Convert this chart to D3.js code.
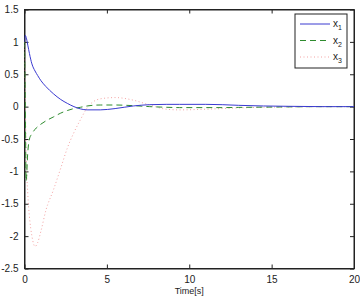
<!DOCTYPE html>
<html>
<head>
<meta charset="utf-8">
<script src="https://cdn.jsdelivr.net/npm/d3@7"></script>
<style>
  body { margin: 0; background: #fff; }
  text { font-family: "Liberation Sans", Arial, sans-serif; }
</style>
</head>
<body>
<div id="chart"></div>
<script>
var margin = { top: 9.5, right: 6, bottom: 29.5, left: 24.5 },
    width = 360 - margin.left - margin.right,
    height = 298 - margin.top - margin.bottom;

// time samples and the three states
var time = [0, 0.05, 0.1, 0.2, 0.3, 0.45, 0.64, 0.8, 1.0, 1.3, 1.75, 2.2, 2.6, 3.0, 3.4, 3.8, 4.6, 5.5, 6.6, 7.6, 8.6, 9.4, 11, 12, 13, 14.5, 16, 18, 20];
var x1 = [1.0, 1.1, 1.07, 0.95, 0.82, 0.66, 0.55, 0.48, 0.4, 0.31, 0.2, 0.11, 0.05, 0.0, -0.035, -0.05, -0.05, -0.03, 0.01, 0.03, 0.035, 0.035, 0.035, 0.03, 0.02, 0.01, 0.005, 0, 0];
var x2 = [1.0, 0.0, -1.15, -0.7, -0.5, -0.42, -0.35, -0.31, -0.27, -0.22, -0.16, -0.1, -0.06, -0.03, -0.01, 0.01, 0.025, 0.025, 0.015, 0.0, -0.01, -0.015, -0.015, -0.015, -0.012, -0.008, -0.004, 0, 0];
var x3 = [1.0, 0.1, -0.7, -1.35, -1.7, -2.0, -2.16, -2.1, -1.92, -1.6, -1.29, -0.95, -0.64, -0.4, -0.2, -0.02, 0.12, 0.14, 0.1, 0.025, -0.04, -0.05, -0.04, -0.03, -0.02, -0.01, -0.005, 0, 0];

var xTicks = [0, 5, 10, 15, 20];
var yTicks = [-2.5, -2, -1.5, -1, -0.5, 0, 0.5, 1, 1.5];

var series = [
    { name: "1", values: x1, color: "#3a3ad0", dash: null, width: 1 },
    { name: "2", values: x2, color: "#2e8b2e", dash: "6,4", width: 1 },
    { name: "3", values: x3, color: "#f08c8c", dash: "1,2.5", width: 0.8 }
];

var svg = d3.select("#chart")
    .append("svg")
    .attr("width", width + margin.left + margin.right)
    .attr("height", height + margin.top + margin.bottom)
    .append("g")
    .attr("transform", "translate(" + margin.left + "," + margin.top + ")");

var x = d3.scaleLinear().domain([0, 20]).range([0, width]);
var y = d3.scaleLinear().domain([-2.5, 1.5]).range([height, 0]);

// axes with inward ticks on all four sides
svg.append("g")
    .attr("transform", `translate(0,${height})`)
    .call(d3.axisBottom(x).tickValues(xTicks).tickSizeInner(-4).tickSizeOuter(0).tickPadding(7).tickFormat(d3.format("d")));
svg.append("g")
    .call(d3.axisTop(x).tickValues(xTicks).tickSizeInner(-4).tickSizeOuter(0).tickFormat(""));
svg.append("g")
    .call(d3.axisLeft(y).tickValues(yTicks).tickSizeInner(-4).tickSizeOuter(0).tickPadding(6).tickFormat(d => String(d)));
svg.append("g")
    .attr("transform", `translate(${width},0)`)
    .call(d3.axisRight(y).tickValues(yTicks).tickSizeInner(-4).tickSizeOuter(0).tickFormat(""));

svg.selectAll(".domain").attr("stroke", "#222");
svg.selectAll(".tick line").attr("stroke", "#222");
svg.selectAll(".tick text").style("font-size", "10px").attr("fill", "#222");

svg.append("rect")
    .attr("width", width).attr("height", height)
    .attr("fill", "none").attr("stroke", "#222");

svg.append("clipPath").attr("id", "clip")
    .append("rect").attr("width", width).attr("height", height);

var line = d3.line()
    .x((d, i) => x(time[i]))
    .y(d => y(d))
    .curve(d3.curveMonotoneX);

svg.append("g").attr("clip-path", "url(#clip)")
    .selectAll("path")
    .data(series.slice().reverse())
    .enter().append("path")
    .attr("d", d => line(d.values))
    .attr("fill", "none")
    .attr("stroke", d => d.color)
    .attr("stroke-width", d => d.width)
    .attr("stroke-dasharray", d => d.dash);

svg.append("text")
    .attr("x", width / 2)
    .attr("y", height + 25)
    .attr("text-anchor", "middle")
    .style("font-size", "9px")
    .attr("fill", "#222")
    .text("Time[s]");

// legend
var legend = svg.append("g").attr("transform", "translate(270.5,4.5)");
legend.append("rect")
    .attr("width", 52).attr("height", 54)
    .attr("fill", "#fff").attr("stroke", "#222");

var item = legend.selectAll(".item")
    .data(series)
    .enter().append("g")
    .attr("transform", (d, i) => "translate(0," + (10 + i * 16.5) + ")");
item.append("line")
    .attr("x1", 5).attr("x2", 35)
    .attr("stroke", d => d.color)
    .attr("stroke-width", d => d.width)
    .attr("stroke-dasharray", d => d.dash);
item.append("text")
    .attr("x", 38).attr("y", 3)
    .style("font-size", "10px")
    .attr("fill", "#222")
    .text("x")
    .append("tspan")
    .attr("dy", 3)
    .style("font-size", "7px")
    .text(d => d.name);
</script>
</body>
</html>
